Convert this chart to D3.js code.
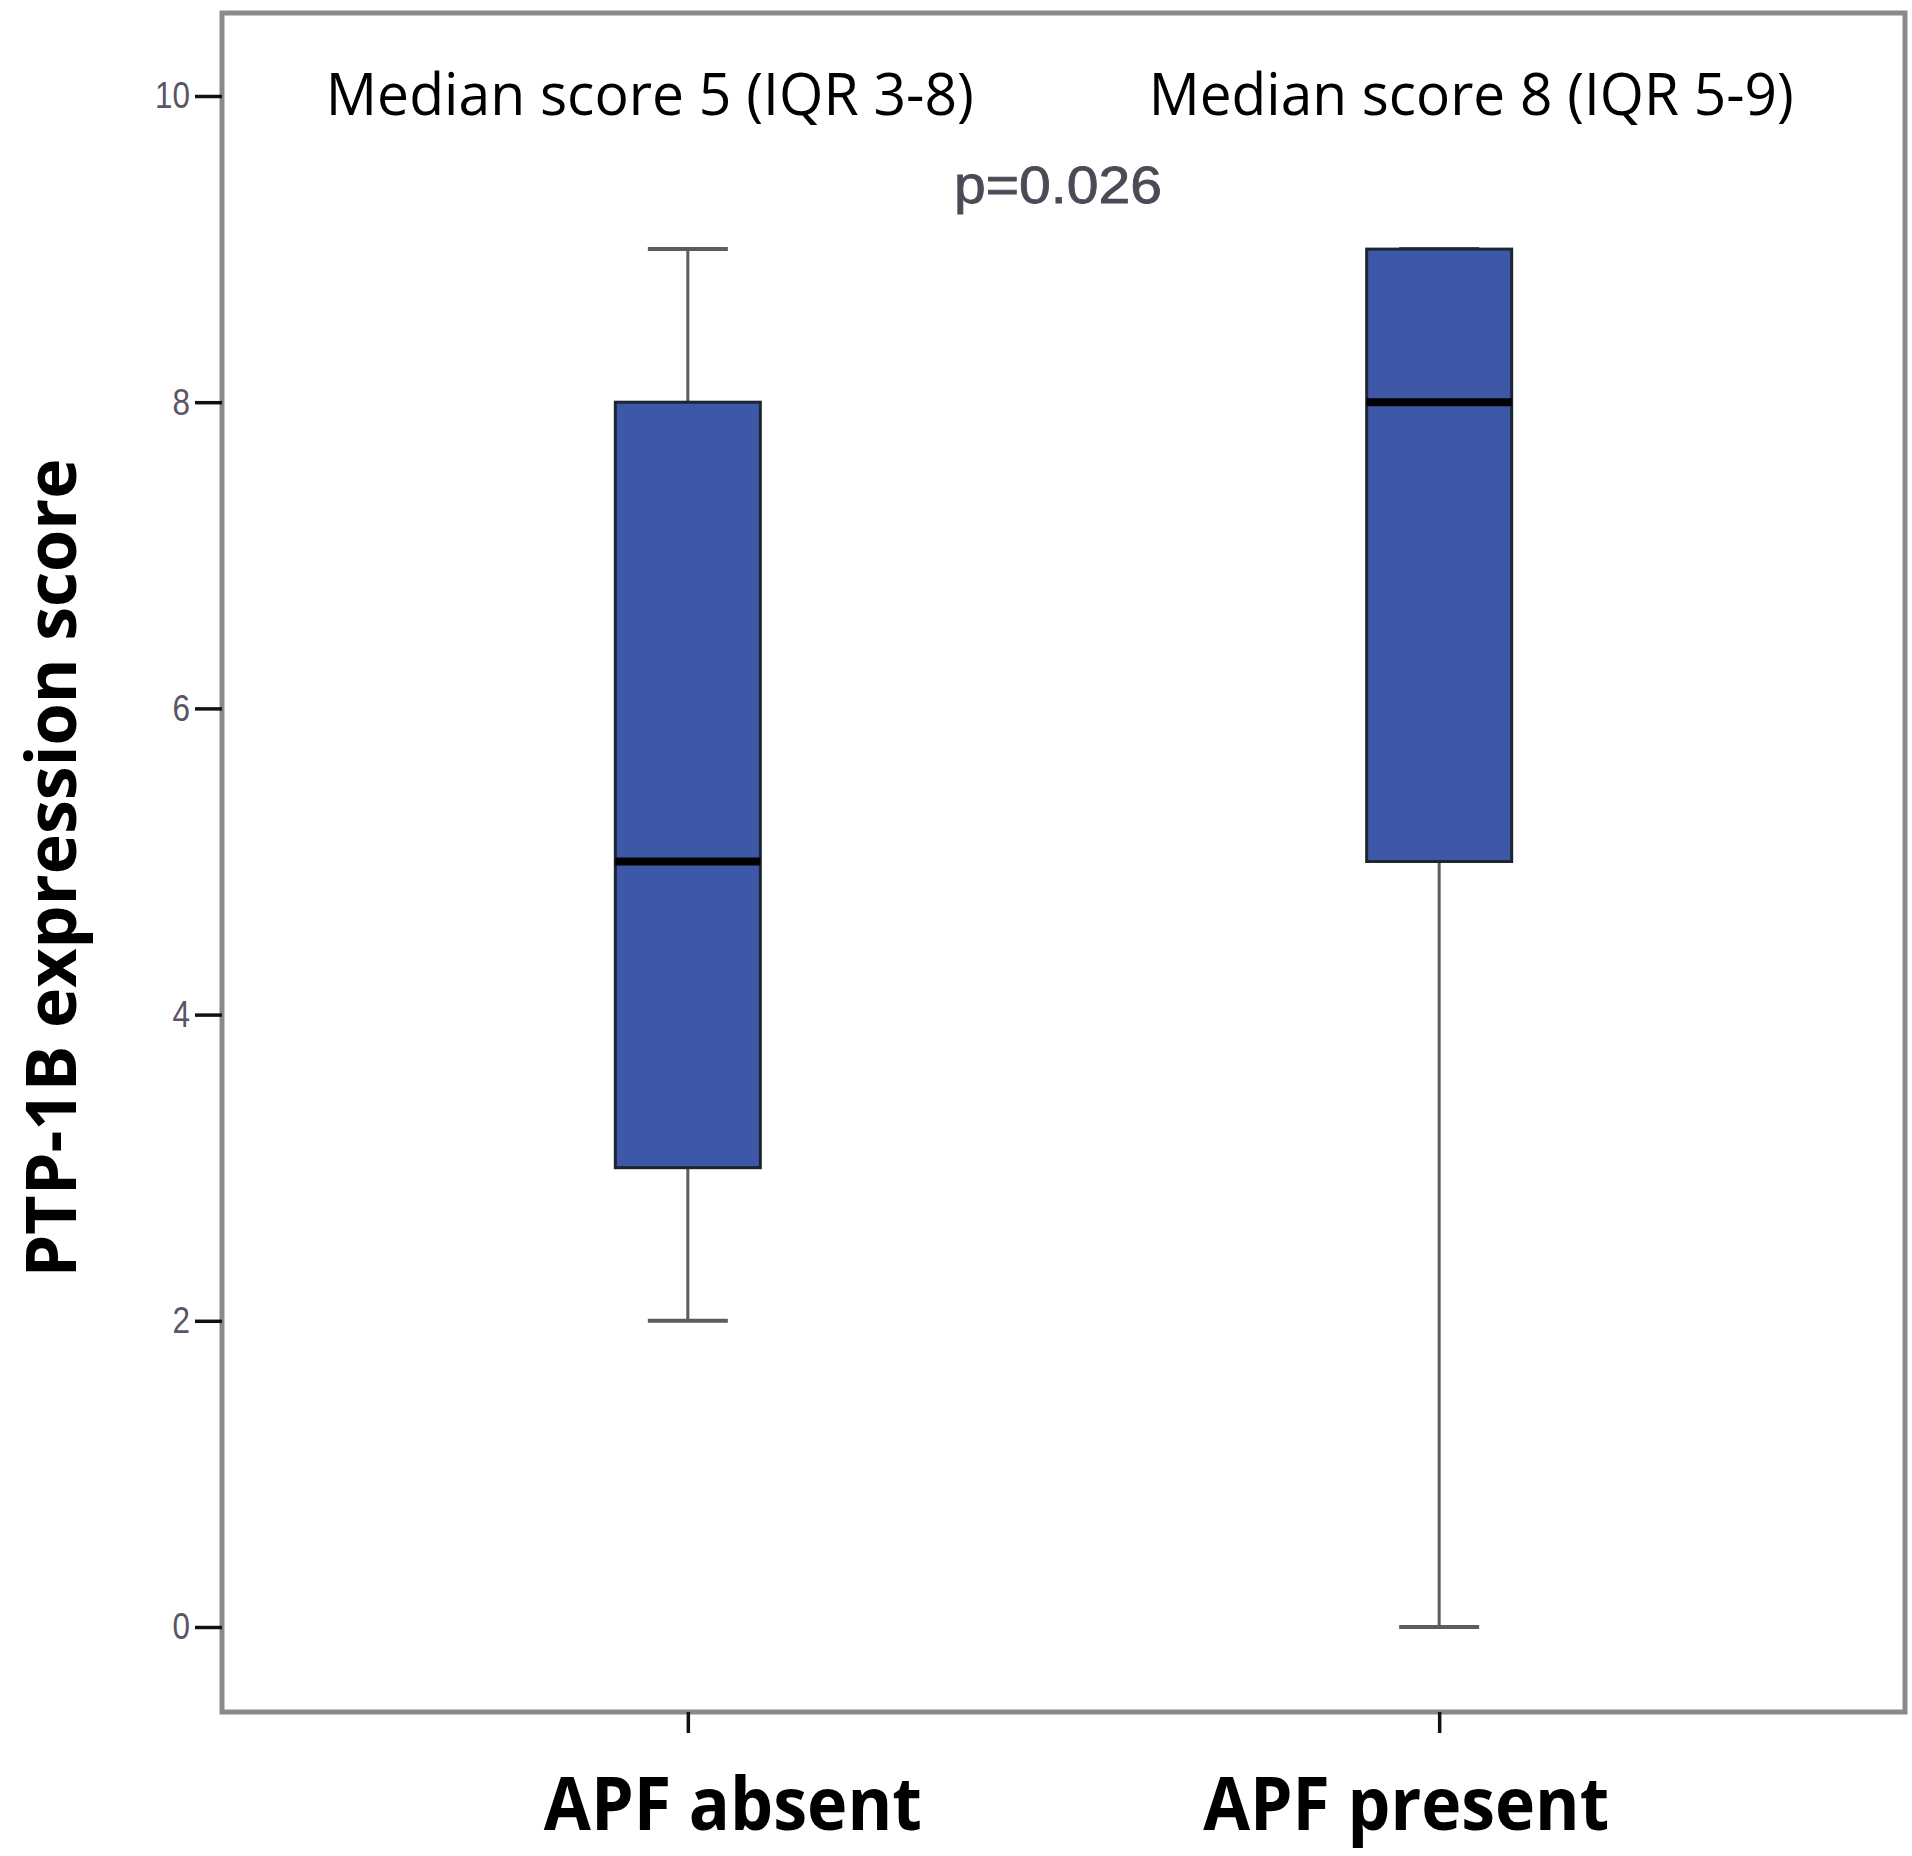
<!DOCTYPE html>
<html>
<head>
<meta charset="utf-8">
<script src="https://cdn.jsdelivr.net/npm/d3@7"></script>
<style>
  html, body { margin: 0; padding: 0; background: #fff; }
</style>
</head>
<body>
<script>
/* chart values */
const groups = ["APF absent", "APF present"];
const whiskerLow = [2, 0];
const q1 = [3, 5];
const median = [5, 8];
const q3 = [8, 9];
const whiskerHigh = [9, 9];
const yTicks = [0, 2, 4, 6, 8, 10];
const medianNotes = ["Median score 5 (IQR 3-8)", "Median score 8 (IQR 5-9)"];
const pLabel = "p=0.026";
const yTitle = "PTP-1B expression score";

/* page and frame dimensions */
let width = 1912;
let height = 1856;
let frameLeft = 222;
let frameRight = 1905;
let frameTop = 13;
let frameBottom = 1712;

let svg = d3.select("body")
    .append("svg")
    .attr("width", width)
    .attr("height", height);

/* scales */
let xScale = d3.scalePoint()
    .domain(groups)
    .range([frameLeft, frameRight])
    .padding(0.62);

let yScale = d3.scaleLinear()
    .domain([0, 10])
    .range([1627, 96]);

let boxWidth = xScale.step() * 0.193;
let capWidth = 80;

/* frame round the plot */
svg.append("rect")
    .attr("x", frameLeft)
    .attr("y", frameTop)
    .attr("width", frameRight - frameLeft)
    .attr("height", frameBottom - frameTop)
    .attr("fill", "none")
    .attr("stroke", "#8a8a8a")
    .attr("stroke-width", 5);

/* y axis, ticks outside the frame */
let yAxis = d3.axisLeft(yScale)
    .tickValues(yTicks)
    .tickSize(27)
    .tickPadding(3);

let yg = svg.append("g")
    .attr("transform", "translate(" + frameLeft + ",0)")
    .call(yAxis);
yg.select(".domain").remove();
yg.selectAll(".tick line").attr("stroke", "#111").attr("stroke-width", 3.5);
yg.selectAll(".tick text")
    .attr("fill", "#5a5566")
    .style("font-family", "Arial, 'Liberation Sans', sans-serif")
    .style("font-size", "37px")
    .attr("transform", "scale(0.85,1)")
    .attr("x", -32 / 0.85);

/* x axis ticks under the frame */
let xAxis = d3.axisBottom(xScale)
    .tickSize(21)
    .tickFormat("");

let xg = svg.append("g")
    .attr("transform", "translate(0," + frameBottom + ")")
    .call(xAxis);
xg.select(".domain").remove();
xg.selectAll(".tick line").attr("stroke", "#111").attr("stroke-width", 3.5);

/* whiskers */
let boxes = svg.selectAll("g.box")
    .data(groups)
    .enter()
    .append("g")
    .attr("class", "box");

boxes.append("line")
    .attr("x1", d => xScale(d))
    .attr("x2", d => xScale(d))
    .attr("y1", (d, i) => yScale(whiskerLow[i]))
    .attr("y2", (d, i) => yScale(whiskerHigh[i]))
    .attr("stroke", "#5c5c5c")
    .attr("stroke-width", 3);

boxes.append("line")
    .attr("x1", d => xScale(d) - capWidth / 2)
    .attr("x2", d => xScale(d) + capWidth / 2)
    .attr("y1", (d, i) => yScale(whiskerLow[i]))
    .attr("y2", (d, i) => yScale(whiskerLow[i]))
    .attr("stroke", "#5c5c5c")
    .attr("stroke-width", 4);

boxes.append("line")
    .attr("x1", d => xScale(d) - capWidth / 2)
    .attr("x2", d => xScale(d) + capWidth / 2)
    .attr("y1", (d, i) => yScale(whiskerHigh[i]))
    .attr("y2", (d, i) => yScale(whiskerHigh[i]))
    .attr("stroke", "#5c5c5c")
    .attr("stroke-width", 4);

/* interquartile boxes */
boxes.append("rect")
    .attr("x", d => xScale(d) - boxWidth / 2)
    .attr("y", (d, i) => yScale(q3[i]))
    .attr("width", boxWidth)
    .attr("height", (d, i) => yScale(q1[i]) - yScale(q3[i]))
    .attr("fill", "#3e58a8")
    .attr("stroke", "#1e2430")
    .attr("stroke-width", 3);

/* median bars */
boxes.append("line")
    .attr("x1", d => xScale(d) - boxWidth / 2)
    .attr("x2", d => xScale(d) + boxWidth / 2)
    .attr("y1", (d, i) => yScale(median[i]))
    .attr("y2", (d, i) => yScale(median[i]))
    .attr("stroke", "#000")
    .attr("stroke-width", 8);

/* median notes above each box */
let noteShift = [-38, 32];
let noteLength = [648, 645];
svg.selectAll("text.note")
    .data(medianNotes)
    .enter()
    .append("text")
    .attr("class", "note")
    .attr("x", (d, i) => xScale(groups[i]) + noteShift[i])
    .attr("y", 115)
    .attr("text-anchor", "middle")
    .attr("textLength", (d, i) => noteLength[i])
    .attr("lengthAdjust", "spacingAndGlyphs")
    .style("font-family", "'Open Sans', sans-serif")
    .style("font-size", "58px")
    .attr("fill", "#000")
    .text(d => d);

/* p value */
svg.append("text")
    .attr("x", 1058)
    .attr("y", 203)
    .attr("text-anchor", "middle")
    .attr("textLength", 208)
    .attr("lengthAdjust", "spacingAndGlyphs")
    .style("font-family", "Arial, 'Liberation Sans', sans-serif")
    .style("font-size", "51px")
    .attr("fill", "#4b4b57")
    .attr("stroke", "#4b4b57")
    .attr("stroke-width", 0.8)
    .text(pLabel);

/* category labels */
let labelShift = [45, -33];
let labelLength = [378, 406];
svg.selectAll("text.cat")
    .data(groups)
    .enter()
    .append("text")
    .attr("class", "cat")
    .attr("x", (d, i) => xScale(d) + labelShift[i])
    .attr("y", 1830)
    .attr("text-anchor", "middle")
    .attr("textLength", (d, i) => labelLength[i])
    .attr("lengthAdjust", "spacingAndGlyphs")
    .style("font-family", "'Open Sans', sans-serif")
    .style("font-weight", "bold")
    .style("font-size", "74px")
    .attr("fill", "#000")
    .text(d => d);

/* y axis title */
svg.append("text")
    .attr("transform", "translate(76,868) rotate(-90)")
    .attr("text-anchor", "middle")
    .attr("textLength", 819)
    .attr("lengthAdjust", "spacingAndGlyphs")
    .style("font-family", "'Open Sans', sans-serif")
    .style("font-weight", "bold")
    .style("font-size", "70px")
    .attr("fill", "#000")
    .text(yTitle);
</script>
</body>
</html>
